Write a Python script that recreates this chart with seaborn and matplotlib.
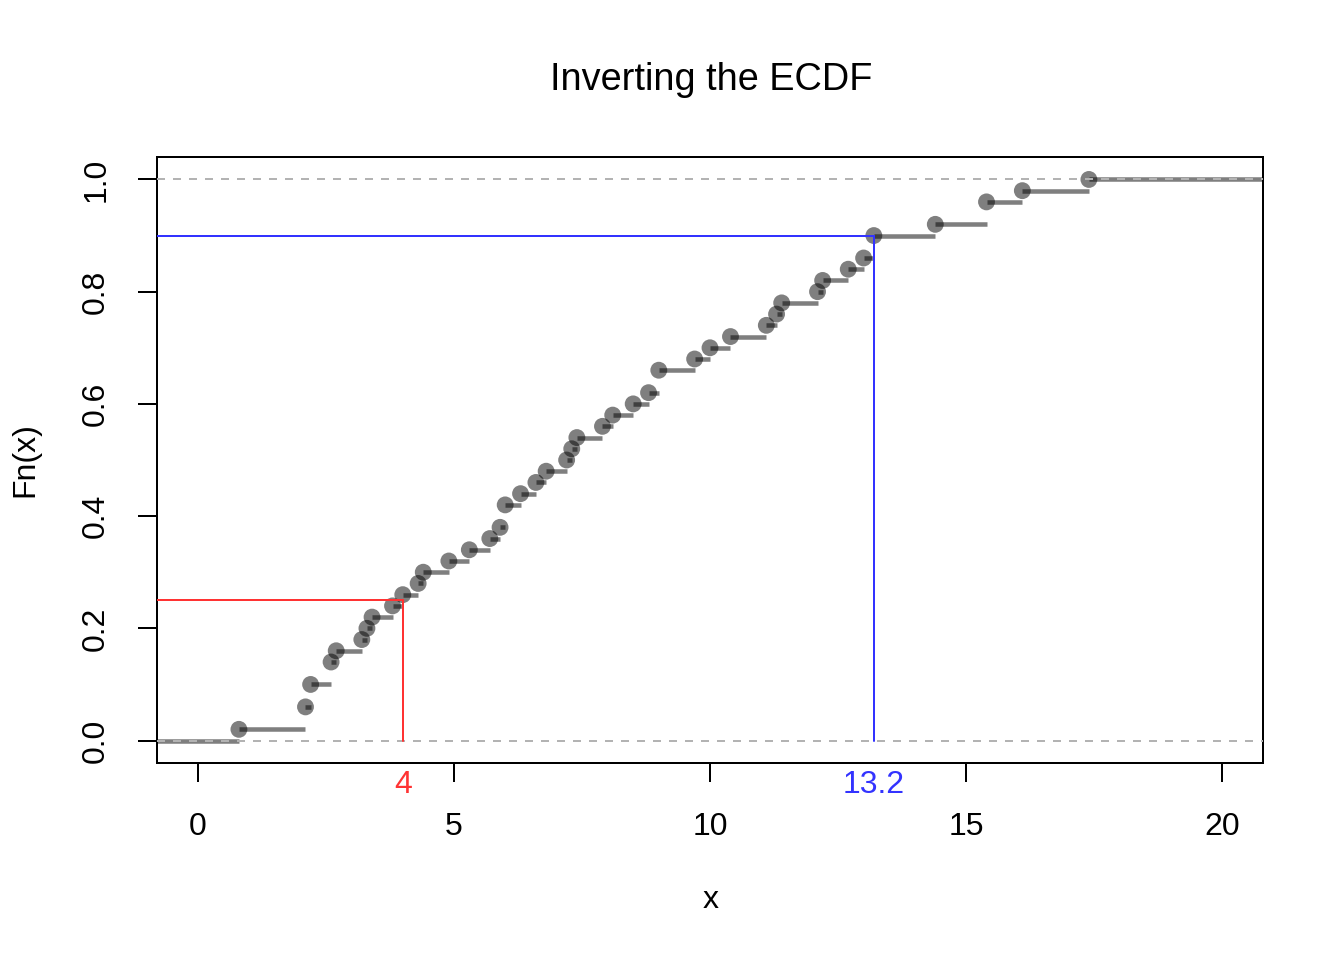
import numpy as np
import pandas as pd
import matplotlib
matplotlib.use("Agg")
import matplotlib.pyplot as plt
import seaborn as sns
from matplotlib.transforms import blended_transform_factory

# ---- data ----
obs = [0.8, 2.1, 2.1, 2.2, 2.2, 2.6, 2.6, 2.7, 3.2, 3.3, 3.4, 3.8, 4.0, 4.3, 4.4,
       4.9, 5.3, 5.7, 5.9, 6.0, 6.0, 6.3, 6.6, 6.8, 7.2, 7.3, 7.4, 7.9, 8.1, 8.5,
       8.8, 9.0, 9.0, 9.7, 10.0, 10.4, 11.1, 11.3, 11.4, 12.1, 12.2, 12.7, 13.0,
       13.2, 13.2, 14.4, 15.4, 15.4, 16.1, 17.4]
probs = [0.25, 0.90]
quantiles = [4.0, 13.2]
quantile_labels = ["4", "13.2"]
quantile_colors = ["#FF3333", "#3333FF"]
xticks = [0, 5, 10, 15, 20]
xtick_labels = ["0", "5", "10", "15", "20"]
yticks = [0.0, 0.2, 0.4, 0.6, 0.8, 1.0]
ytick_labels = ["0.0", "0.2", "0.4", "0.6", "0.8", "1.0"]

sns.set_style("white")
plt.rcParams['font.family'] = ['Liberation Sans', 'DejaVu Sans']
plt.rcParams['text.color'] = 'black'

fig = plt.figure(figsize=(7, 5), dpi=192)
W, H = 1344, 960
ax = fig.add_axes([157 / W, 1 - 763 / H, (1263 - 157) / W, (763 - 157) / H])

xlim = (-0.8, 20.8)
ylim = (-0.04, 1.04)
ax.set_xlim(*xlim)
ax.set_ylim(*ylim)

xs = np.sort(np.array(obs))
uniq = np.unique(xs)
fn = np.array([np.mean(xs <= u) for u in uniq])
df = pd.DataFrame({"x": uniq, "Fn": fn})

# steps
starts = np.concatenate([[xlim[0]], uniq])
ends = np.concatenate([uniq, [xlim[1]]])
levels = np.concatenate([[0.0], fn])
ax.hlines(levels, starts, ends, colors=[(0, 0, 0, 0.5)], linewidth=1.7, zorder=2)

# points
sns.scatterplot(data=df, x="x", y="Fn", ax=ax, color="black", alpha=0.5,
                s=40, edgecolor="none", linewidth=0, zorder=3, legend=False)

# 0 / 1 dashed lines
for h in (0.0, 1.0):
    ax.axhline(h, color="#B3B3B3", linestyle=(0, (4, 4)), linewidth=0.75, zorder=4)

# quantile inversion lines
for p, q, lab, c in zip(probs, quantiles, quantile_labels, quantile_colors):
    ax.plot([xlim[0], q], [p, p], color=c, linewidth=0.75, zorder=5)
    ax.plot([q, q], [p, 0.0], color=c, linewidth=0.75, zorder=5)
    trans = blended_transform_factory(ax.transData, ax.transAxes)
    ax.text(q, -22 / 606, lab, color=c, fontsize=12, ha="center", va="center",
            transform=trans, clip_on=False)

# axes styling (R-like)
for s in ax.spines.values():
    s.set_visible(True)
    s.set_color("black")
    s.set_linewidth(0.75)
ax.set_xticks(xticks)
ax.set_xticklabels(xtick_labels)
ax.set_yticks(yticks)
ax.set_yticklabels(ytick_labels, rotation=90, va="center")
ax.tick_params(axis="both", direction="out", length=7.2, width=0.75,
               color="black", labelsize=12, labelcolor="black", bottom=True, left=True)
ax.tick_params(axis="x", pad=11)
ax.tick_params(axis="y", pad=10)
ax.set_xlabel("")
ax.set_ylabel("")
ax.grid(False)

fig.text(711 / W, 1 - 80 / H, "Inverting the ECDF", fontsize=14.2, ha="center", va="center", color="black")
fig.text(711 / W, 1 - 900 / H, "x", fontsize=12, ha="center", va="center", color="black")
fig.text(25 / W, 1 - 460 / H, "Fn(x)", fontsize=12, ha="center", va="center", rotation=90, color="black")

fig.savefig("out.png", dpi=192, facecolor="white")
